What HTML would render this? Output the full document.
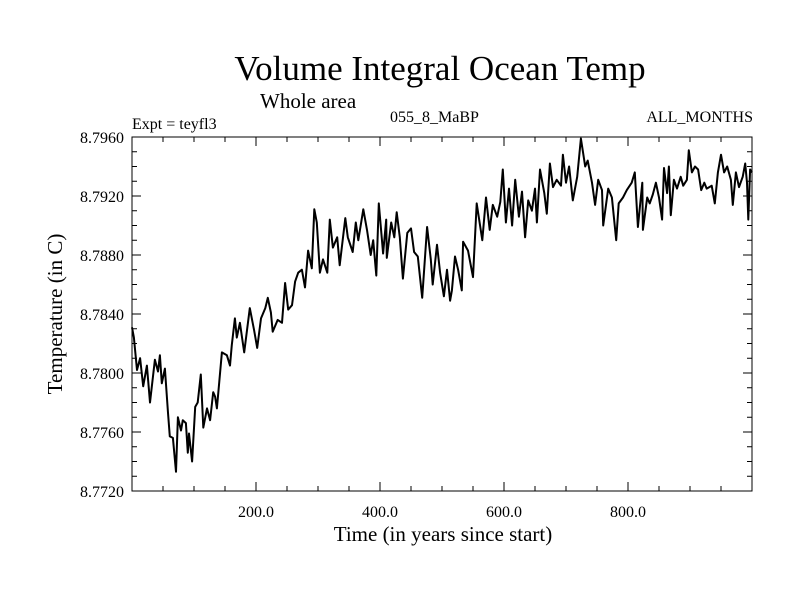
<!DOCTYPE html>
<html><head><meta charset="utf-8">
<style>
html,body{margin:0;padding:0;background:#fff;}
svg{display:block;font-family:"Liberation Serif",serif;}
</style></head>
<body>
<svg id="chart" width="800" height="600" viewBox="0 0 800 600">
<text x="440" y="80" font-size="35" text-anchor="middle">Volume Integral Ocean Temp</text>
<text x="260" y="108" font-size="21">Whole area</text>
<text x="132" y="129" font-size="16">Expt = teyfl3</text>
<text x="390" y="122" font-size="16">055_8_MaBP</text>
<text x="753" y="122" font-size="16" text-anchor="end">ALL_MONTHS</text>
<text x="443" y="541" font-size="21" text-anchor="middle">Time (in years since start)</text>
<text transform="translate(62,314) rotate(-90)" font-size="21" text-anchor="middle">Temperature (in C)</text>
<g id="axes"></g>
<path id="series" fill="none" stroke="#000" stroke-width="2" stroke-linejoin="round"></path>
<rect x="132" y="137" width="620" height="354" fill="none" stroke="#000" stroke-width="1"></rect>
</svg>
<script>
const years = [0,3,8,13,18,24,29,37,42,45,48,53,58,61,66,71,74,79,82,87,90,92,97,102,106,111,115,121,126,131,134,137,145,153,158,161,166,169,174,181,190,197,202,208,215,219,224,227,235,242,247,252,258,263,268,
274,279,284,290,294,298,303,308,315,319,324,331,335,344,348,356,361,365,373,379,385,389,394,398,405,410,411,418,423,427,432,437,444,450,455,461,468,476,482,485,492,497,503,508,513,
516,521,526,532,534,542,550,556,565,571,577,582,589,594,598,603,608,613,618,624,629,634,639,645,650,653,658,665,669,674,679,685,692,695,700,705,711,718,724,731,735,742,747,752,
758,760,768,774,781,785,792,798,806,811,816,823,824,831,835,840,845,850,855,858,863,866,869,874,879,885,889,895,898,903,908,913,918,923,927,935,940,945,950,955,960,966,969,974,979,985,989,992,994,997,1000];
const temps = [8.7831,8.7824,8.7802,8.7810,8.7791,8.7805,8.7780,8.7809,8.7801,8.7812,8.7793,8.7803,8.7773,8.7757,8.7756,8.7733,8.7770,8.7761,8.7768,8.7766,8.7746,8.7759,8.7740,8.7777,8.7780,8.7799,8.7763,8.7776,8.7768,8.7787,8.7784,8.7776,8.7814,8.7812,8.7805,8.7819,8.7837,8.7824,8.7834,8.7814,8.7844,8.7829,8.7817,8.7837,8.7844,8.7851,8.7841,8.7828,8.7836,8.7834,8.7861,8.7843,8.7846,8.7862,8.7868,
8.7870,8.7858,8.7883,8.7871,8.7911,8.7902,8.7868,8.7877,8.7868,8.7904,8.7885,8.7892,8.7873,8.7905,8.7892,8.7882,8.7902,8.7890,8.7911,8.7897,8.7880,8.7890,8.7866,8.7915,8.7881,8.7904,8.7878,8.7902,8.7892,8.7909,8.7892,8.7864,8.7895,8.7898,8.7882,8.7879,8.7851,8.7899,8.7877,8.7860,8.7887,8.7868,8.7852,8.7870,8.7849,
8.7856,8.7879,8.7870,8.7856,8.7889,8.7883,8.7865,8.7915,8.7890,8.7919,8.7897,8.7914,8.7906,8.7916,8.7938,8.7902,8.7925,8.7900,8.7931,8.7906,8.7923,8.7892,8.7917,8.7910,8.7925,8.7902,8.7938,8.7922,8.7908,8.7942,8.7926,8.7931,8.7927,8.7948,8.7929,8.7940,8.7917,8.7933,8.7959,8.7940,8.7944,8.7929,8.7914,8.7931,
8.7924,8.7900,8.7925,8.7919,8.7890,8.7915,8.7919,8.7924,8.7929,8.7936,8.7899,8.7929,8.7897,8.7919,8.7915,8.7921,8.7929,8.7919,8.7904,8.7939,8.7922,8.7940,8.7907,8.7931,8.7925,8.7933,8.7927,8.7931,8.7951,8.7936,8.7940,8.7938,8.7924,8.7929,8.7925,8.7927,8.7915,8.7936,8.7948,8.7936,8.7940,8.7931,8.7914,8.7936,8.7926,8.7933,8.7942,8.7929,8.7904,8.7938,8.7936];
const xTickLabels = ["200.0","400.0","600.0","800.0"];
const xTickValues = [200,400,600,800];
const yTickLabels = ["8.7720","8.7760","8.7800","8.7840","8.7880","8.7920","8.7960"];
const yTickValues = [8.772,8.776,8.780,8.784,8.788,8.792,8.796];

const L=132,R=752,T=137,B=491,X0=0,X1=1000,Y0=8.772,Y1=8.796;
function sx(v){return L+(v-X0)/(X1-X0)*(R-L);}
function sy(v){return B-(v-Y0)/(Y1-Y0)*(B-T);}
const NS="http://www.w3.org/2000/svg";
const axes=document.getElementById('axes');
function line(x1,y1,x2,y2,name){
  const l=document.createElementNS(NS,'line');
  l.setAttribute('x1',x1);l.setAttribute('y1',y1);l.setAttribute('x2',x2);l.setAttribute('y2',y2);
  l.setAttribute('stroke','#000');l.setAttribute('stroke-width','1');
  
  
  axes.appendChild(l);
}
function label(x,y,txt,anchor,name){
  const t=document.createElementNS(NS,'text');
  t.setAttribute('x',x);t.setAttribute('y',y);t.setAttribute('font-size','16');t.setAttribute('text-anchor',anchor);
  t.textContent=txt;
  
  
  axes.appendChild(t);
}
for(let v=50;v<1000;v+=50){
  const major=(v%200===0);const len=major?9:5;const x=sx(v);
  line(x,B,x,B-len,'x-tick');
  line(x,T,x,T+len,'x-tick-top');
}
xTickValues.forEach((v,i)=>label(sx(v),517,xTickLabels[i],'middle','x-tick-label'));
for(let i=1;i<24;i++){
  const v=Y0+i*0.001;const major=(i%4===0);const len=major?9:5;const y=sy(v);
  line(L,y,L+len,y,'y-tick');
  line(R,y,R-len,y,'y-tick-right');
}
yTickValues.forEach((v,i)=>label(124,sy(v)+6,yTickLabels[i],'end','y-tick-label'));
let d='';
years.forEach((yr,i)=>{d+=(i?'L':'M')+sx(yr).toFixed(1)+' '+sy(temps[i]).toFixed(1);});
document.getElementById('series').setAttribute('d',d);
</script>
</body></html>
